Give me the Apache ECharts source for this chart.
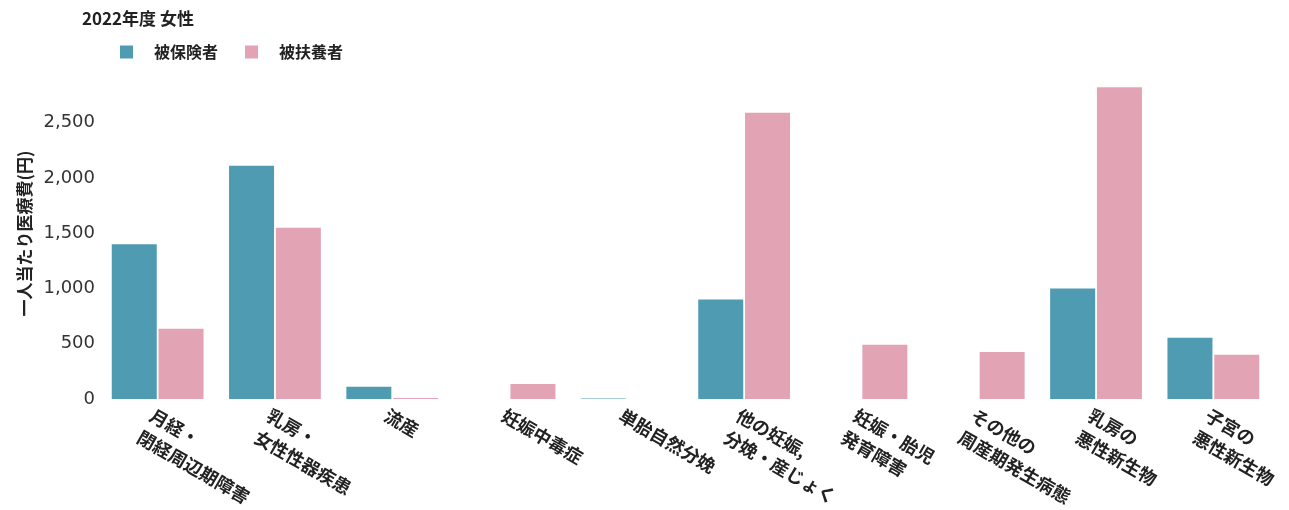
<!DOCTYPE html>
<html><head><meta charset="utf-8">
<script src="https://cdn.jsdelivr.net/npm/echarts@6/dist/echarts.min.js"></script>
<style>html,body{margin:0;padding:0;background:#fff;}#c{width:1289px;height:510px;}</style>
</head><body><div id="c"></div>
<script>
const categories = ['月経・\n閉経周辺期障害','乳房・\n女性性器疾患','流産','妊娠中毒症','単胎自然分娩','他の妊娠,\n分娩・産じょく','妊娠・胎児\n発育障害','その他の\n周産期発生病態','乳房の\n悪性新生物','子宮の\n悪性新生物'];
const insured = [1400, 2110, 110, 0, 5, 900, 0, 0, 1000, 555];
const dependents = [635, 1550, 8, 135, 0, 2590, 490, 425, 2820, 400];
const seriesNames = ['被保険者','被扶養者'];
const font = '"Noto Sans CJK JP", "Noto Sans", sans-serif';
const chart = echarts.init(document.getElementById('c'));
chart.setOption({
  animation:false,
  title:{text:'2022年度 女性', left:77, top:5, textStyle:{fontFamily:font, fontSize:17, fontWeight:'bold', color:'#222'}},
  legend:{left:115, top:39, itemWidth:13, itemHeight:13, itemGap:27, icon:'rect',
    textStyle:{fontFamily:font, fontSize:16, fontWeight:'bold', color:'#222', padding:[0,0,0,16]}},
  grid:{left:99, right:17, top:84, bottom:111, containLabel:false, outerBoundsMode:'none'},
  xAxis:{type:'category', data:categories, axisLine:{show:false}, axisTick:{show:false},
    axisLabel:{rotate:-30, interval:0, margin:4, fontFamily:font, fontSize:18, fontWeight:'bold', color:'#222', lineHeight:25, align:'left', verticalAlign:'top'}},
  yAxis:{type:'value', min:0, max:2850, interval:500, name:'一人当たり医療費(円)', nameLocation:'middle', nameGap:64,
    nameTextStyle:{fontFamily:font, fontSize:17, fontWeight:'bold', color:'#222', padding:[0,0,0,16]},
    splitLine:{show:false}, axisLine:{show:false}, axisTick:{show:false},
    axisLabel:{showMaxLabel:false, fontFamily:'"DejaVu Sans", sans-serif', fontSize:18, color:'#333', margin:4,
      formatter:v=>v.toLocaleString('en-US')}},
  series:[
    {name:seriesNames[0], type:'bar', data:insured, barWidth:45, barGap:'4%', itemStyle:{color:'#4f9bb2'}},
    {name:seriesNames[1], type:'bar', data:dependents, barWidth:45, itemStyle:{color:'#e2a4b5'}}
  ]
});
</script></body></html>
